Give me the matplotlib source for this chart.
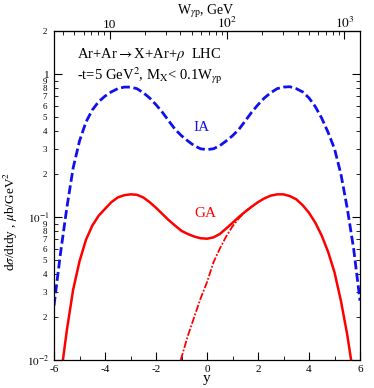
import numpy as np
import matplotlib
matplotlib.use('Agg')
import matplotlib.pyplot as plt
from matplotlib.ticker import FixedLocator, FixedFormatter, NullFormatter

plt.rcParams['font.family'] = ['Liberation Serif', 'DejaVu Serif']
plt.rcParams['mathtext.fontset'] = 'stix'

# IA (blue dashed)
ia_y = [-6.0, -5.75, -5.5, -5.25, -5.0, -4.75, -4.5, -4.25, -4.0, -3.75, -3.5, -3.25,
        -3.0, -2.75, -2.5, -2.25, -2.0, -1.75, -1.5, -1.25, -1.0, -0.75, -0.5, -0.25,
        0.0, 0.25, 0.5, 0.75, 1.0, 1.25, 1.5, 1.75, 2.0, 2.25, 2.5, 2.75, 3.0, 3.25,
        3.5, 3.75, 4.0, 4.25, 4.5, 4.75, 5.0, 5.25, 5.5, 5.75, 6.0]
ia_v = [0.024, 0.055, 0.115, 0.22, 0.34, 0.46, 0.56, 0.64, 0.70, 0.75, 0.79, 0.81,
        0.81, 0.79, 0.74, 0.68, 0.61, 0.54, 0.47, 0.41, 0.37, 0.34, 0.315, 0.30,
        0.296, 0.30, 0.315, 0.34, 0.37, 0.41, 0.47, 0.54, 0.61, 0.68, 0.74, 0.79, 0.81, 0.815,
        0.79, 0.75, 0.68, 0.59, 0.49, 0.39, 0.30, 0.20, 0.115, 0.06, 0.026]

# GA (red solid)
ga_y = [-5.65, -5.5, -5.25, -5.0, -4.75, -4.5, -4.25, -4.0, -3.75, -3.5, -3.25, -3.0,
        -2.75, -2.5, -2.25, -2.0, -1.75, -1.5, -1.25, -1.0, -0.75, -0.5, -0.25, 0.0,
        0.25, 0.5, 0.75, 1.0, 1.25, 1.5, 1.75, 2.0, 2.25, 2.5, 2.75, 3.0, 3.25, 3.5,
        3.75, 4.0, 4.25, 4.5, 4.75, 5.0, 5.25, 5.5, 5.65]
ga_v = [0.010, 0.016, 0.031, 0.049, 0.069, 0.087, 0.102, 0.114, 0.127, 0.137, 0.142, 0.144,
        0.143, 0.137, 0.127, 0.116, 0.105, 0.095, 0.087, 0.080, 0.076, 0.073, 0.071, 0.0705,
        0.072, 0.076, 0.083, 0.091, 0.100, 0.109, 0.118, 0.127, 0.135, 0.141, 0.144, 0.144,
        0.140, 0.133, 0.121, 0.107, 0.091, 0.074, 0.057, 0.041, 0.026, 0.015, 0.010]

# GA, one-side contribution (red dash-dot)
gd_y = [-1.03, -0.75, -0.5, -0.25, 0.0, 0.25, 0.5, 0.75, 1.0, 1.25, 1.5, 1.75]
gd_v = [0.010, 0.0148, 0.020, 0.027, 0.035, 0.048, 0.060, 0.073, 0.086, 0.098, 0.109, 0.118]

W0 = 67.5

fig = plt.figure(figsize=(3.74, 3.88), dpi=100)
ax = fig.add_axes([0.1444, 0.0722, 0.8182, 0.848])

ax.plot(ia_y, ia_v, color='#1010ee', ls=(0, (3.2, 1.3)), lw=2.0)
ax.plot(ga_y, ga_v, color='#ff0000', ls='-', lw=1.8)
ax.plot(gd_y, gd_v, color='#ff0000', ls=(0, (4, 1, 1, 1)), lw=1.3)

ax.set_yscale('log')
ax.set_xlim(-6, 6)
ax.set_ylim(0.01, 2)

ax.set_xticks([-6, -4, -2, 0, 2, 4, 6])
ax.set_xticklabels(['-6', '-4', '-2', '0', '2', '4', '6'])
ax.set_xticks(np.arange(-6, 7, 1), minor=True)

yt_major = [0.01, 0.1, 1]
ax.yaxis.set_major_locator(FixedLocator(yt_major))
ax.yaxis.set_major_formatter(FixedFormatter([r'$10^{-2}$', r'$10^{-1}$', '1']))
minor = [k * 0.01 for k in range(2, 10)] + [k * 0.1 for k in range(2, 10)] + [2.0]
minor_lab = [str(k) for k in range(2, 10)] * 2 + ['2']
ax.yaxis.set_minor_locator(FixedLocator(minor))
ax.yaxis.set_minor_formatter(FixedFormatter(minor_lab))

ax.tick_params(which='both', direction='in', top=False, right=True, labelsize=8)
ax.tick_params(which='major', length=6, width=0.8)
ax.tick_params(which='minor', length=3, width=0.6)
ax.tick_params(axis='y', which='minor', labelsize=6.5, pad=5)
ax.tick_params(axis='y', which='major', labelsize=8, pad=3)
for sp in ax.spines.values():
    sp.set_linewidth(0.9)

top = ax.secondary_xaxis('top', functions=(lambda y: W0 * np.exp(np.asarray(y) / 2.0),
                                           lambda w: 2.0 * np.log(np.maximum(np.asarray(w), 1e-9) / W0)))
top.xaxis.set_major_locator(FixedLocator([10, 100, 1000]))
top.xaxis.set_major_formatter(FixedFormatter(['10', r'$10^2$', r'$10^3$']))
wminor = [k for k in range(4, 10)] + [10 * k for k in range(2, 10)] + [100 * k for k in range(2, 10)]
top.xaxis.set_minor_locator(FixedLocator(wminor))
top.xaxis.set_minor_formatter(NullFormatter())
top.tick_params(which='both', direction='in', labelsize=9.5, pad=0)
top.tick_params(which='major', length=6)
top.tick_params(which='minor', length=3)
fig.text(0.55, 0.995, r'W$_{\gamma\mathrm{p}}$, GeV', fontsize=10, ha='center', va='top')

ax.set_xlabel('y', fontsize=11, labelpad=-1)
ax.set_ylabel(r'd$\sigma$/dtdy , $\mu$b/GeV$^2$', fontsize=9.5)
ax.yaxis.set_label_coords(-0.11, 0.42)

ax.text(0.075, 0.955, r'Ar+Ar$\rightarrow$X+Ar+$\rho$  LHC', transform=ax.transAxes,
        fontsize=10.5, va='top')
ax.text(0.075, 0.895, r'-t=5 GeV$^2$, M$_\mathrm{X}$< 0.1W$_{\gamma\mathrm{p}}$',
        transform=ax.transAxes, fontsize=10.5, va='top')
ax.text(-0.2, 0.42, 'IA', color='#1010ee', fontsize=11, ha='center', va='center')
ax.text(-0.05, 0.105, 'GA', color='#ff0000', fontsize=11, ha='center', va='center')

fig.savefig('out.png', dpi=100)
